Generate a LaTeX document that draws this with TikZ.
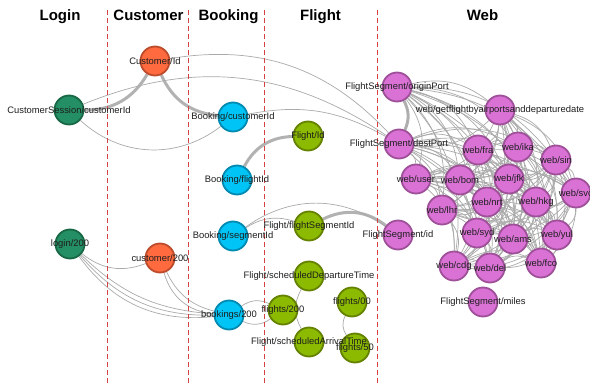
\documentclass[tikz,border=0pt]{standalone}
\usepackage{fontspec}
\setmainfont{Liberation Sans}
\pgfdeclarelayer{bgl}
\pgfdeclarelayer{edges}
\pgfdeclarelayer{fg}
\pgfsetlayers{bgl,edges,main,fg}
\definecolor{loginF}{RGB}{36,142,100}
\definecolor{loginD}{RGB}{24,104,70}
\definecolor{custF}{RGB}{255,106,62}
\definecolor{custD}{RGB}{188,76,44}
\definecolor{bookF}{RGB}{0,196,245}
\definecolor{bookD}{RGB}{0,138,178}
\definecolor{flightF}{RGB}{140,186,0}
\definecolor{flightD}{RGB}{100,130,0}
\definecolor{webF}{RGB}{218,114,214}
\definecolor{webD}{RGB}{158,80,152}
\definecolor{edgec}{RGB}{170,170,170}
\definecolor{edgeT}{RGB}{178,178,178}
\definecolor{sepc}{RGB}{214,64,64}
\definecolor{labc}{RGB}{30,30,30}
\newcommand\mkvertex[5]{%
  \node[#5] (#1) at (#2,-#3) {};
  \begin{pgfonlayer}{fg}\node[lab] (#1-l) at (#2,-#3) {#4};\end{pgfonlayer}}
\begin{document}
\begin{tikzpicture}[x=1pt,y=1pt,
  vnode/.style={circle, minimum size=29pt, inner sep=0pt, line width=1.8pt},
  loginv/.style={vnode, fill=loginF, draw=loginD},
  custv/.style={vnode, fill=custF, draw=custD},
  bookv/.style={vnode, fill=bookF, draw=bookD},
  flightv/.style={vnode, fill=flightF, draw=flightD},
  webv/.style={vnode, fill=webF, draw=webD},
  lab/.style={font=\fontsize{9.4}{10}\selectfont, text=labc, inner sep=0pt},
  hdr/.style={font=\bfseries\fontsize{15}{18}\selectfont, anchor=base, inner sep=0pt},
  edge/.style={draw=edgec, line width=0.7pt},
  strong/.style={draw=edgeT, line width=3pt},
  sepline/.style={draw=sepc, line width=1pt, dash pattern=on 5pt off 3pt}]
\begin{pgfonlayer}{bgl}
\fill[white] (0,0) rectangle (590,-385);
\end{pgfonlayer}
\useasboundingbox (0,0) rectangle (590,-385);

% headers
\node[hdr] (h1) at (60,-21) {Login};
\node[hdr] (h2) at (148.5,-21) {Customer};
\node[hdr] (h3) at (228.5,-21) {Booking};
\node[hdr] (h4) at (320.5,-21) {Flight};
\node[hdr] (h5) at (482.5,-21) {Web};

% separators
\foreach \k/\x in {1/107.3,2/188.7,3/264.3,4/377.7}{
  \coordinate (s\k t) at (\x,-10);
  \coordinate (s\k b) at (\x,-385);
  \draw[sepline] (s\k t) -- (s\k b);
}

% Login
\mkvertex{css}{69}{110}{CustomerSession/customerId}{loginv}
\mkvertex{l200}{70}{244}{login/200}{loginv}
% Customer
\mkvertex{cid}{155}{61}{Customer/Id}{custv}
\mkvertex{c200}{160}{258}{customer/200}{custv}
% Booking
\mkvertex{bcid}{233}{117}{Booking/customerId}{bookv}
\mkvertex{bfid}{237}{180}{Booking/flightId}{bookv}
\mkvertex{bsid}{233}{236}{Booking/segmentId}{bookv}
\mkvertex{b200}{229}{315}{bookings/200}{bookv}
% Flight
\mkvertex{fid}{308}{136}{Flight/Id}{flightv}
\mkvertex{ffs}{309}{226}{Flight/flightSegmentId}{flightv}
\mkvertex{fdep}{309}{276}{Flight/scheduledDepartureTime}{flightv}
\mkvertex{f200}{283}{310}{flights/200}{flightv}
\mkvertex{farr}{309}{342}{Flight/scheduledArrivalTime}{flightv}
\mkvertex{f00}{352}{302}{flights/00}{flightv}
\mkvertex{f50}{355}{348}{flights/50}{flightv}
% Web
\mkvertex{wo}{397}{87}{FlightSegment/originPort}{webv}
\mkvertex{wg}{500}{110}{web/getflightbyairportsanddeparturedate}{webv}
\mkvertex{wd}{399}{144}{FlightSegment/destPort}{webv}
\mkvertex{fra}{478}{150}{web/fra}{webv}
\mkvertex{ika}{518}{147}{web/ika}{webv}
\mkvertex{sin}{556}{160}{web/sin}{webv}
\mkvertex{user}{416}{179}{web/user}{webv}
\mkvertex{bom}{460}{180}{web/bom}{webv}
\mkvertex{jfk}{509}{179}{web/jfk}{webv}
\mkvertex{svo}{576}{193}{web/svo}{webv}
\mkvertex{nrt}{487}{202}{web/nrt}{webv}
\mkvertex{hkg}{536}{202}{web/hkg}{webv}
\mkvertex{lhr}{442}{210}{web/lhr}{webv}
\mkvertex{syd}{477}{233}{web/syd}{webv}
\mkvertex{ams}{513}{239}{web/ams}{webv}
\mkvertex{yul}{557}{235}{web/yul}{webv}
\mkvertex{fsid}{398}{235}{FlightSegment/id}{webv}
\mkvertex{cdg}{454}{266}{web/cdg}{webv}
\mkvertex{del}{490}{268}{web/del}{webv}
\mkvertex{fco}{541}{263}{web/fco}{webv}
\mkvertex{miles}{483}{302}{FlightSegment/miles}{webv}

\begin{pgfonlayer}{edges}
% thick links
\draw[strong] (css) to[bend right=30] (cid);
\draw[strong] (cid) to[bend right=30] (bcid);
\draw[strong] (bfid) to[bend left=30] (fid);
\draw[strong] (ffs) to[bend left=32] (fsid);
\draw[strong] (wo) to[bend left=25] (wd);
% thin links, left part
\draw[edge] (cid) to[bend left=28] (wd);
\draw[edge] (css) to[bend left=28] (wd);
\draw[edge] (bcid) to[bend left=20] (wd);
\draw[edge] (css) to[bend right=40] (bcid);
\draw[edge] (bsid) to[bend left=25] (ffs);
\draw[edge] (bsid) to[bend left=35] (fsid);
\draw[edge] (l200) to[bend right=30] (c200);
\draw[edge] (l200) to[bend right=20] (b200);
\draw[edge] (l200) to[bend right=25] (b200);
\draw[edge] (l200) to[bend right=30] (b200);
\draw[edge] (c200) to[bend right=25] (b200);
\draw[edge] (c200) to[bend right=35] (b200);
\draw[edge] (b200) to[bend left=30] (f200);
\draw[edge] (b200) to[bend right=30] (f200);
\draw[edge] (fdep) to[bend right=30] (farr);
\draw[edge] (f00) to[bend right=30] (f50);
% web cluster
\foreach \a [count=\i] in {wo,wg,wd,fra,ika,sin,user,bom,jfk,svo,nrt,hkg,lhr,syd,ams,yul,cdg,del,fco}{
  \foreach \b [count=\j] in {wo,wg,wd,fra,ika,sin,user,bom,jfk,svo,nrt,hkg,lhr,syd,ams,yul,cdg,del,fco}{
    \ifnum\j>\i \draw[edge] (\a) to[bend left=25] (\b); \fi
  }
}
\end{pgfonlayer}
\end{tikzpicture}
\end{document}
